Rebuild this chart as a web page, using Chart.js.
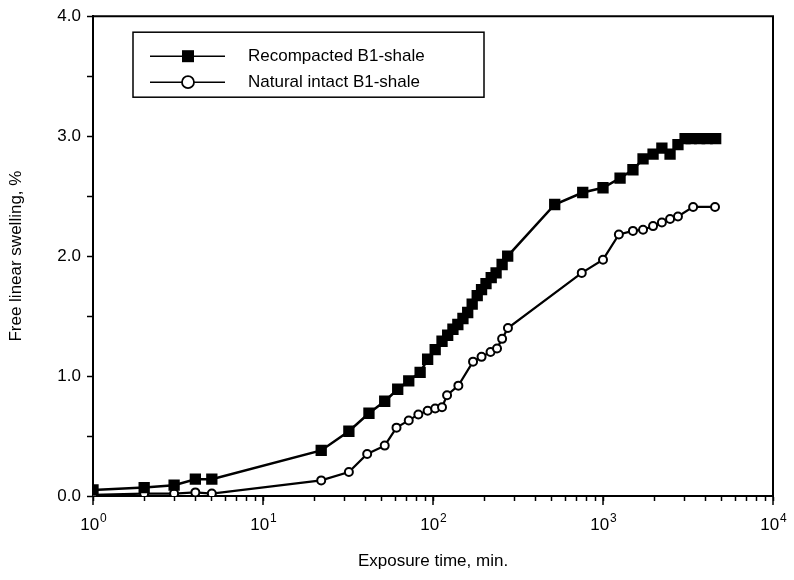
<!DOCTYPE html>
<html>
<head>
<meta charset="utf-8">
<script src="https://cdn.jsdelivr.net/npm/chart.js@4.4.0/dist/chart.umd.min.js"></script>
<style>
  html, body { margin: 0; padding: 0; background: #fff; }
  #wrap { width: 794px; height: 580px; }
</style>
</head>
<body>
<div id="wrap"><canvas id="myChart" width="794" height="580"></canvas></div>
<script>
// exposure time (min) and free linear swelling (%)
const recompTime = [1, 2, 3, 4, 5, 22, 32, 42, 52, 62, 72, 84, 93, 103, 113, 122, 131, 140, 150, 160, 170, 182, 193, 205, 220, 235, 255, 275, 520, 760, 1000, 1260, 1500, 1720, 1970, 2220, 2480, 2760, 3040, 3300, 3700, 4100, 4600];
const recompSwell = [0.05, 0.07, 0.09, 0.14, 0.14, 0.38, 0.54, 0.69, 0.79, 0.89, 0.96, 1.03, 1.14, 1.22, 1.29, 1.34, 1.39, 1.43, 1.48, 1.53, 1.60, 1.67, 1.72, 1.77, 1.82, 1.86, 1.93, 2.00, 2.43, 2.53, 2.57, 2.65, 2.72, 2.81, 2.85, 2.90, 2.85, 2.93, 2.98, 2.98, 2.98, 2.98, 2.98];

const naturalTime = [1, 2, 3, 4, 5, 22, 32, 41, 52, 61, 72, 82, 93, 103, 113, 121, 141, 172, 193, 218, 238, 255, 276, 750, 1000, 1240, 1500, 1720, 1970, 2220, 2480, 2760, 3390, 4560];
const naturalSwell = [0.01, 0.02, 0.02, 0.03, 0.02, 0.13, 0.20, 0.35, 0.42, 0.57, 0.63, 0.68, 0.71, 0.73, 0.74, 0.84, 0.92, 1.12, 1.16, 1.20, 1.23, 1.31, 1.40, 1.86, 1.97, 2.18, 2.21, 2.22, 2.25, 2.28, 2.31, 2.33, 2.41, 2.41];

const seriesLabels = ["Recompacted B1-shale", "Natural intact B1-shale"];
const xTitle = "Exposure time, min.";
const yTitle = "Free linear swelling, %";
const decadeExponents = ["0", "1", "2", "3", "4"];

const FONT = "'Liberation Sans', Arial, sans-serif";

function toPoints(xs, ys) {
    let pts = [];
    for (let i = 0; i < xs.length; i++) {
        pts.push({ x: xs[i], y: ys[i] });
    }
    return pts;
}

// top + right frame lines, decade labels 10^n, longer decade ticks
const framePlugin = {
    id: "frame",
    afterDraw(chart) {
        const a = chart.chartArea;
        const ctx = chart.ctx;
        const xs = chart.scales.x;
        ctx.save();
        ctx.strokeStyle = "#000";
        ctx.lineWidth = 2;
        ctx.beginPath();
        ctx.moveTo(a.left, a.top);
        ctx.lineTo(a.right, a.top);
        ctx.lineTo(a.right, a.bottom);
        ctx.stroke();

        ctx.lineWidth = 1.5;
        ctx.fillStyle = "#000";
        decadeExponents.forEach(function (e, i) {
            const px = xs.getPixelForValue(Math.pow(10, i));
            ctx.beginPath();
            ctx.moveTo(px, a.bottom);
            ctx.lineTo(px, a.bottom + 9);
            ctx.stroke();
            ctx.font = "17px " + FONT;
            const wBase = ctx.measureText("10").width;
            ctx.font = "12px " + FONT;
            const wExp = ctx.measureText(e).width;
            const left = px - (wBase + wExp) / 2;
            ctx.textBaseline = "alphabetic";
            ctx.font = "17px " + FONT;
            ctx.fillText("10", left, a.bottom + 34);
            ctx.font = "12px " + FONT;
            ctx.fillText(e, left + wBase + 1, a.bottom + 26);
        });
        ctx.restore();
    }
};

// boxed legend with line + marker samples
const boxLegend = {
    id: "boxLegend",
    afterDraw(chart) {
        const a = chart.chartArea;
        const ctx = chart.ctx;
        const x0 = a.left + 40, y0 = a.top + 16, w = 351, h = 65;
        ctx.save();
        ctx.fillStyle = "#fff";
        ctx.fillRect(x0, y0, w, h);
        ctx.strokeStyle = "#000";
        ctx.lineWidth = 1.5;
        ctx.strokeRect(x0, y0, w, h);
        chart.data.datasets.forEach(function (ds, i) {
            const yy = y0 + 24 + i * 26;
            ctx.strokeStyle = "#000";
            ctx.lineWidth = 1.5;
            ctx.beginPath();
            ctx.moveTo(x0 + 17, yy);
            ctx.lineTo(x0 + 92, yy);
            ctx.stroke();
            ctx.beginPath();
            if (i === 0) {
                ctx.fillStyle = "#000";
                ctx.fillRect(x0 + 55 - 6, yy - 6, 12, 12);
            } else {
                ctx.fillStyle = "#fff";
                ctx.lineWidth = 1.8;
                ctx.arc(x0 + 55, yy, 6, 0, Math.PI * 2);
                ctx.fill();
                ctx.stroke();
            }
            ctx.fillStyle = "#000";
            ctx.font = "17px " + FONT;
            ctx.textBaseline = "middle";
            ctx.fillText(ds.label, x0 + 115, yy);
        });
        ctx.restore();
    }
};

let ctx = document.getElementById("myChart");

new Chart(ctx, {
    type: "scatter",
    data: {
        datasets: [
            {
                label: seriesLabels[0],
                data: toPoints(recompTime, recompSwell),
                showLine: true,
                borderColor: "#000",
                borderWidth: 2.5,
                pointStyle: "rect",
                pointRadius: 8,
                pointBackgroundColor: "#000",
                pointBorderColor: "#000",
                pointBorderWidth: 0,
            },
            {
                label: seriesLabels[1],
                data: toPoints(naturalTime, naturalSwell),
                showLine: true,
                borderColor: "#000",
                borderWidth: 2.2,
                pointStyle: "circle",
                pointRadius: 4,
                pointBackgroundColor: "#fff",
                pointBorderColor: "#000",
                pointBorderWidth: 2,
            },
        ],
    },
    plugins: [framePlugin, boxLegend],
    options: {
        responsive: false,
        animation: false,
        layout: { padding: { left: 0, right: 21, top: 15, bottom: 0 } },
        plugins: {
            legend: { display: false },
            tooltip: { enabled: false },
        },
        scales: {
            x: {
                type: "logarithmic",
                min: 1,
                max: 10000,
                afterBuildTicks: function (scale) {
                    let t = [];
                    for (let d = 1; d <= 1000; d *= 10) {
                        for (let k = 1; k < 10; k++) t.push({ value: k * d });
                    }
                    t.push({ value: 10000 });
                    scale.ticks = t;
                },
                afterFit: function (scale) { scale.height = 84; },
                ticks: {
                    autoSkip: false,
                    maxRotation: 0,
                    padding: 6,
                    color: "#000",
                    font: { family: FONT, size: 17 },
                    callback: function () { return ""; },
                },
                grid: {
                    drawOnChartArea: false,
                    drawTicks: true,
                    tickLength: 5,
                    tickColor: "#000",
                    tickWidth: 1.5,
                },
                border: { display: true, color: "#000", width: 2 },
                title: {
                    display: true,
                    text: xTitle,
                    color: "#000",
                    font: { family: FONT, size: 17 },
                    padding: { top: 14, bottom: 8 },
                },
            },
            y: {
                min: 0,
                max: 4,
                afterFit: function (scale) { scale.width = 93; },
                ticks: {
                    stepSize: 0.5,
                    padding: 6,
                    color: "#000",
                    font: { family: FONT, size: 17 },
                    callback: function (value) {
                        if (Math.abs(value - Math.round(value)) < 1e-9) return value.toFixed(1);
                        return "";
                    },
                },
                grid: {
                    drawOnChartArea: false,
                    drawTicks: true,
                    tickLength: 6,
                    tickColor: "#000",
                    tickWidth: 1.5,
                },
                border: { display: true, color: "#000", width: 2 },
                title: {
                    display: true,
                    text: yTitle,
                    color: "#000",
                    font: { family: FONT, size: 17 },
                    padding: { top: 6, bottom: 4 },
                },
            },
        },
    },
});
</script>
</body>
</html>
